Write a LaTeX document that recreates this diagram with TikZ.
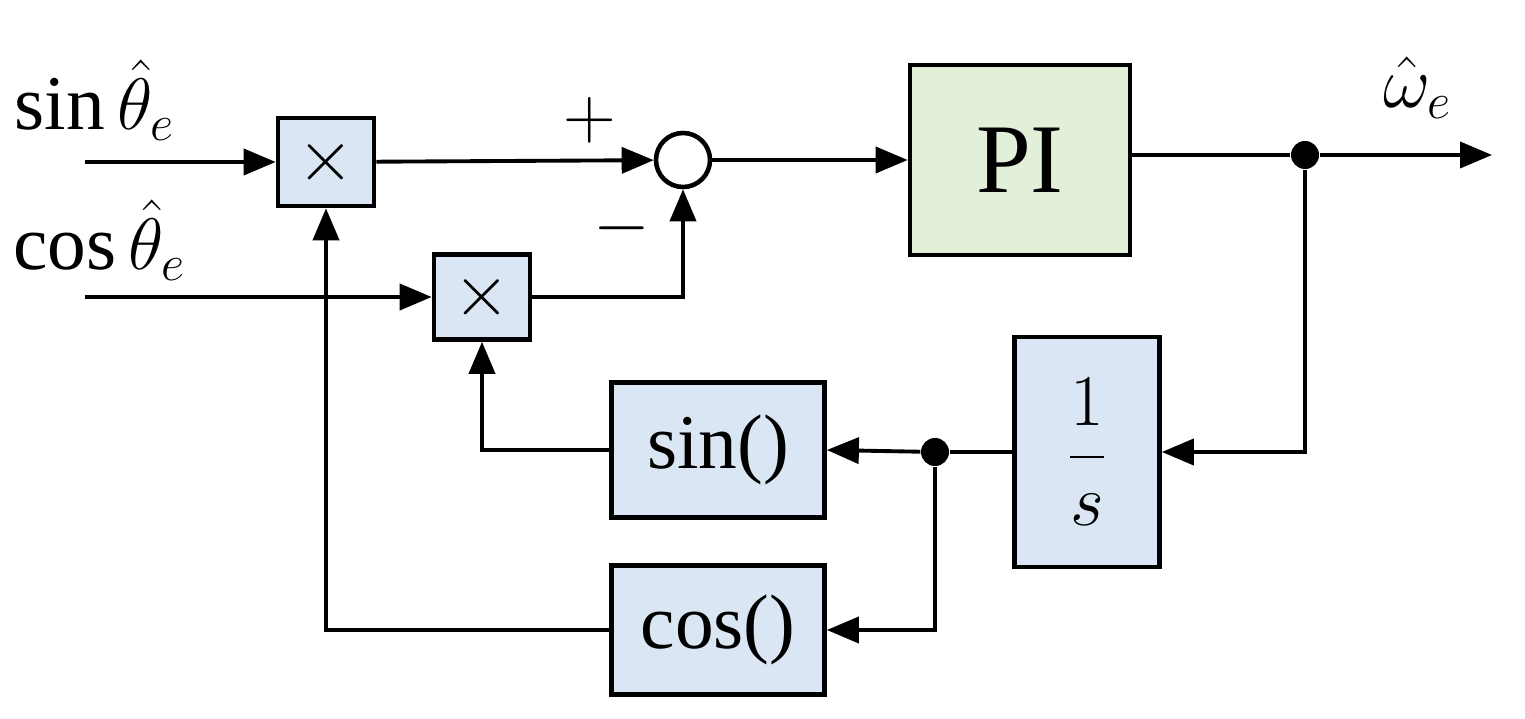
\documentclass[tikz,border=0pt]{standalone}
\usepackage{fontspec}
\setmainfont{Liberation Serif}
\usetikzlibrary{arrows.meta}
\definecolor{bfill}{HTML}{DAE6F4}
\definecolor{gfill}{HTML}{E2F0D9}
\begin{document}
\begin{tikzpicture}[x=0.01cm,y=-0.01cm,
  blk/.style={draw,line width=1.3pt,fill=bfill,inner sep=0pt,font=\fontsize{22}{24}\selectfont},
  ln/.style={line width=1.1pt},
  ar/.style={ln,-{Triangle[length=0.32cm,width=0.26cm]}},
  dot/.style={circle,fill,inner sep=0pt,minimum size=0.28cm},
  lbl/.style={font=\fontsize{22}{24}\selectfont,inner sep=1pt}]
\useasboundingbox (0,0) rectangle (1525,719);
\node[blk,minimum width=0.96cm,minimum height=0.88cm] (m1) at (326,162) {$\times$};
\node[blk,minimum width=0.96cm,minimum height=0.85cm] (m2) at (482,297) {$\times$};
\node[draw,line width=1.3pt,fill=white,circle,minimum size=0.54cm,inner sep=0pt] (s) at (683,160) {};
\node[blk,fill=gfill,minimum width=2.2cm,minimum height=1.9cm,font=\fontsize{28}{30}\selectfont] (pi) at (1020,160) {PI};
\node[blk,minimum width=1.45cm,minimum height=2.3cm] (int) at (1087,452) {$\displaystyle\frac{1}{s}$};
\node[blk,minimum width=2.13cm,minimum height=1.35cm] (sn) at (718,450) {sin()};
\node[blk,minimum width=2.13cm,minimum height=1.29cm] (cs) at (718,630) {cos()};
\node[dot] (d1) at (1305,155) {};
\node[dot] (d2) at (935,452) {};
\coordinate (in1) at (85,162);
\coordinate (in2) at (85,297);
\coordinate (out) at (1492,155);
\node[lbl] (l1) at (95,100) {$\sin\hat{\theta}_e$};
\node[lbl] (l2) at (100,240) {$\cos\hat{\theta}_e$};
\node[lbl] (lw) at (1418,88) {$\hat{\omega}_e$};
\node[lbl] (lp) at (590,120) {$+$};
\node[lbl] (lm) at (622,228) {$-$};
\draw[ar] (in1) -- (m1);
\draw[ar] (in2) -- (m2);
\draw[ar] (m1) -- (s);
\draw[ar] (m2.east) -| (s.south);
\draw[ar] (s) -- (pi);
\draw[ln] (pi.east |- d1) -- (d1);
\draw[ar] (d1) -- (out);
\draw[ar] (d1) |- (int.east);
\draw[ln] (int.west) -- (d2);
\draw[ar] (d2) -- (sn.east);
\draw[ar] (d2) |- (cs.east);
\draw[ar] (sn.west) -| (m2.south);
\draw[ar] (cs.west) -| (m1.south);
\end{tikzpicture}
\end{document}
